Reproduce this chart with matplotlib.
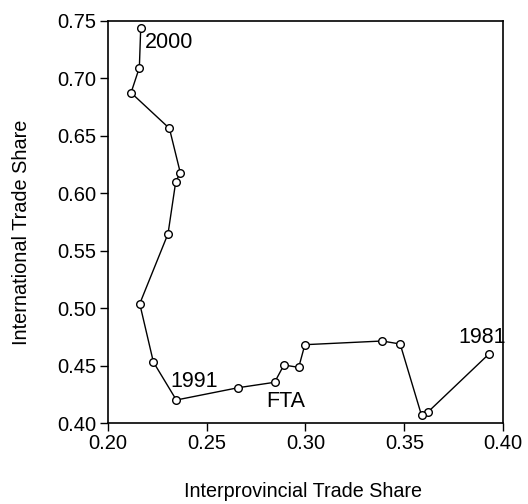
import matplotlib
matplotlib.use("Agg")
import matplotlib.pyplot as plt

plt.rcParams['font.family'] = ['Liberation Sans', 'DejaVu Sans']

years = list(range(1981, 2001))
interprovincial = [0.3926, 0.3618, 0.3587, 0.3479, 0.3388, 0.2997, 0.2966, 0.2891,
                   0.2844, 0.2660, 0.2347, 0.2231, 0.2162, 0.2305, 0.2344, 0.2367,
                   0.2312, 0.2118, 0.2160, 0.2167]
international = [0.4597, 0.4093, 0.4067, 0.4687, 0.4713, 0.4681, 0.4484, 0.4504,
                 0.4354, 0.4307, 0.4200, 0.4530, 0.5037, 0.5646, 0.6098, 0.6177,
                 0.6562, 0.6872, 0.7090, 0.7437]
labels = ["2000", "1991", "FTA", "1981"]
label_x = [0.2189, 0.2315, 0.2801, 0.3771]
label_y = [0.726, 0.4313, 0.4139, 0.4696]
xticks = [0.20, 0.25, 0.30, 0.35, 0.40]
yticks = [0.40, 0.45, 0.50, 0.55, 0.60, 0.65, 0.70, 0.75]

fig = plt.figure(figsize=(5.28, 5.04), dpi=100)
ax = fig.add_axes([0.204, 0.1607, 0.749, 0.7986])
ax.plot(interprovincial, international, color='black', lw=1.0,
        marker='o', ms=5.5, mfc='white', mec='black', mew=1.0)
for t, x, y in zip(labels, label_x, label_y):
    ax.text(x, y, t, fontsize=15.5, ha='left', va='baseline')
ax.set_xlim(0.20, 0.40)
ax.set_ylim(0.40, 0.75)
ax.set_xticks(xticks)
ax.set_yticks(yticks)
ax.set_xticklabels([f"{v:.2f}" for v in xticks])
ax.set_yticklabels([f"{v:.2f}" for v in yticks])
ax.tick_params(direction='out', length=5.5, width=1, labelsize=14.5, pad=2.5)
for s in ax.spines.values():
    s.set_linewidth(1.2)
ax.set_xlabel("Interprovincial Trade Share", fontsize=14.2)
ax.set_ylabel("International Trade Share", fontsize=14.3)
ax.xaxis.set_label_coords(0.495, -0.146)
ax.yaxis.set_label_coords(-0.193, 0.474)
fig.savefig("out.png", dpi=100)
